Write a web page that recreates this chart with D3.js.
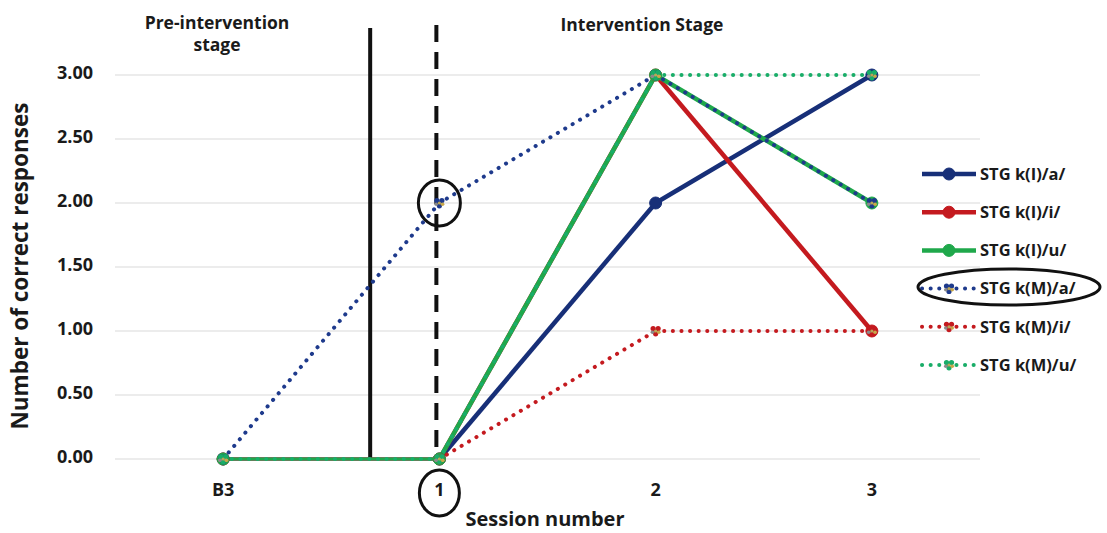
<!DOCTYPE html>
<html>
<head>
<meta charset="utf-8">
<script src="https://cdn.jsdelivr.net/npm/d3@7/dist/d3.min.js"></script>
<style>
  html, body { margin: 0; padding: 0; background: #fff; }
  svg { display: block; }
  text { font-family: "Open Sans", Lato, sans-serif; font-weight: 700; fill: #1a1a1a; }
</style>
</head>
<body>
<svg id="chart" width="1107" height="533"></svg>
<script>
// Sessions (B3 = last baseline probe)
const sessions = ["B3", "1", "2", "3"];

// Number of correct responses per session, one array per target
const kIa = [0, 0, 2, 3];
const kIi = [0, 0, 3, 1];
const kIu = [0, 0, 3, 2];
const kMa = [0, 2, 3, 2];
const kMi = [null, 0, 1, 1];
const kMu = [0, 0, 3, 3];

const seriesNames = ["STG k(I)/a/", "STG k(I)/i/", "STG k(I)/u/", "STG k(M)/a/", "STG k(M)/i/", "STG k(M)/u/"];
const seriesValues = [kIa, kIi, kIu, kMa, kMi, kMu];
const seriesColors = ["#172f78", "#c41a1f", "#1fa84b", "#1e3a8c", "#c41a1f", "#19ad68"];
const seriesDotted = [false, false, false, true, true, true];

const yTicks = [0, 0.5, 1, 1.5, 2, 2.5, 3];

const FONT = "'Open Sans', Lato, sans-serif";

const svg = d3.select("#chart");
const W = 1107, H = 533;
svg.append("rect").attr("width", W).attr("height", H).attr("fill", "#fff");

const plot = { left: 115, right: 980, top: 28, bottom: 459 };

const x = d3.scaleBand().domain(sessions).range([plot.left, plot.right]);
const cx = s => x(s) + x.bandwidth() / 2;
const y = d3.scaleLinear().domain([0, 3]).range([plot.bottom, 75]);

// horizontal gridlines
svg.append("g").selectAll("line").data(yTicks).join("line")
  .attr("x1", plot.left).attr("x2", plot.right)
  .attr("y1", d => y(d)).attr("y2", d => y(d))
  .attr("stroke", "#d9d9d9").attr("stroke-width", 1);

// y axis tick labels
const yAxis = d3.axisLeft(y).tickValues(yTicks).tickFormat(d3.format(".2f")).tickSize(0).tickPadding(0);
const yg = svg.append("g").attr("transform", `translate(93,0)`).call(yAxis);
yg.select(".domain").remove();
yg.selectAll("text").attr("font-size", 18).attr("font-family", FONT).attr("font-weight", 700)
  .attr("fill", "#1a1a1a").attr("dy", "0.18em");

// x axis tick labels
const xAxis = d3.axisBottom(x).tickSize(0).tickPadding(0);
const xg = svg.append("g").attr("transform", `translate(0,490)`).call(xAxis);
xg.select(".domain").remove();
xg.selectAll("text").attr("font-size", 18).attr("font-family", FONT).attr("font-weight", 700)
  .attr("fill", "#1a1a1a").attr("dy", "0.35em");

// axis titles
svg.append("text").attr("transform", "translate(28,266) rotate(-90)")
  .attr("text-anchor", "middle").attr("font-size", 22.5).text("Number of correct responses");
svg.append("text").attr("x", 545).attr("y", 526)
  .attr("text-anchor", "middle").attr("font-size", 20).text("Session number");

// phase headings
const pre = svg.append("text").attr("text-anchor", "middle").attr("font-size", 17.5);
pre.append("tspan").attr("x", 217).attr("y", 29).text("Pre-intervention");
pre.append("tspan").attr("x", 217).attr("y", 51).text("stage");
svg.append("text").attr("x", 642).attr("y", 31).attr("text-anchor", "middle").attr("font-size", 17.5)
  .text("Intervention Stage");

// phase change lines
const phaseX = cx("B3") + x.step() * 0.68;
svg.append("line").attr("x1", phaseX).attr("x2", phaseX).attr("y1", 28).attr("y2", plot.bottom)
  .attr("stroke", "#111").attr("stroke-width", 4);
const startX = cx("1") - 3;
svg.append("line").attr("x1", startX).attr("x2", startX).attr("y1", 25).attr("y2", plot.bottom)
  .attr("stroke", "#111").attr("stroke-width", 4).attr("stroke-dasharray", "17 10");

// series lines, drawn segment by segment (baseline segments thinner)
const lineG = svg.append("g");
seriesValues.forEach((vals, i) => {
  for (let k = 0; k < vals.length - 1; k++) {
    if (vals[k] == null || vals[k + 1] == null) continue;
    const baseline = k === 0;
    const seg = lineG.append("line")
      .attr("x1", cx(sessions[k])).attr("y1", y(vals[k]))
      .attr("x2", cx(sessions[k + 1])).attr("y2", y(vals[k + 1]))
      .attr("stroke", seriesColors[i]);
    if (seriesDotted[i]) {
      seg.attr("stroke-width", 4).attr("stroke-linecap", "round").attr("stroke-dasharray", "0.1 8.5");
    } else {
      seg.attr("stroke-width", baseline ? 3 : 4.5);
    }
  }
});

// markers
function drawMarker(g, px, py, i, scale) {
  const col = seriesColors[i];
  if (!seriesDotted[i]) {
    g.append("circle").attr("cx", px).attr("cy", py).attr("r", 6 * scale)
      .attr("fill", col).attr("stroke", col).attr("stroke-width", 1);
  } else {
    const r = 2.6 * scale;
    const pts = [[-2.5, -2.5], [2.5, -2.5], [0, 2.8], [-3.2, 1.2], [3.2, 1.2]];
    const cols = [col, col, col, "#8a8a8a", "#c9a84a"];
    pts.forEach((p, j) => g.append("circle")
      .attr("cx", px + p[0] * scale).attr("cy", py + p[1] * scale).attr("r", r * (j > 2 ? 0.7 : 1))
      .attr("fill", cols[j]));
    g.append("circle").attr("cx", px).attr("cy", py).attr("r", 1.6 * scale).attr("fill", "#b9a558");
  }
}
const markG = svg.append("g");
seriesValues.forEach((vals, i) => {
  vals.forEach((v, k) => {
    if (v == null) return;
    drawMarker(markG, cx(sessions[k]), y(v), i, 1);
  });
});

// legend
const legend = svg.append("g");
seriesNames.forEach((name, i) => {
  const ly = 174 + i * 38.2;
  const l = legend.append("line").attr("x1", 922).attr("x2", 976).attr("y1", ly).attr("y2", ly)
    .attr("stroke", seriesColors[i]);
  if (seriesDotted[i]) l.attr("stroke-width", 4).attr("stroke-linecap", "round").attr("stroke-dasharray", "0.1 8.5");
  else l.attr("stroke-width", 4.5);
  drawMarker(legend, 949, ly, i, 1);
  legend.append("text").attr("x", 980).attr("y", ly).attr("dy", "0.35em").attr("font-size", 16.5).text(name);
});

// highlight ellipses
const ringStyle = e => e.attr("fill", "none").attr("stroke", "#111").attr("stroke-width", 3);
ringStyle(svg.append("ellipse").attr("cx", cx("1")).attr("cy", y(kMa[1])).attr("rx", 21).attr("ry", 23));
ringStyle(svg.append("ellipse").attr("cx", cx("1")).attr("cy", 493).attr("rx", 20).attr("ry", 23));
ringStyle(svg.append("ellipse").attr("cx", 1009).attr("cy", 287).attr("rx", 91).attr("ry", 18));
</script>
</body>
</html>
